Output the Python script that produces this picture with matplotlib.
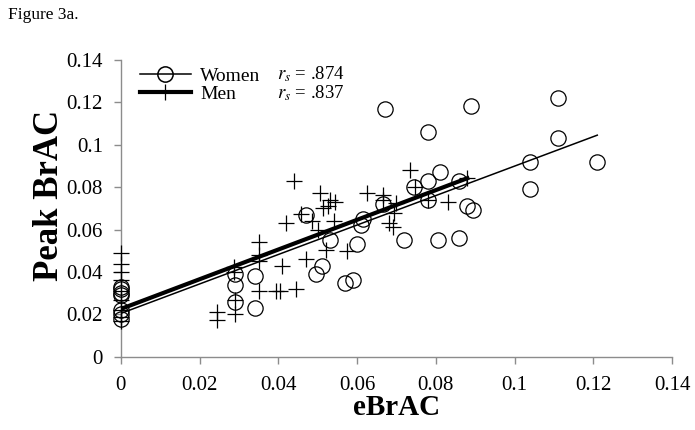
import numpy as np
import matplotlib
matplotlib.use("Agg")
import matplotlib.pyplot as plt
from matplotlib.lines import Line2D
from matplotlib.ticker import FuncFormatter

plt.rcParams['font.family'] = ['Liberation Serif', 'DejaVu Serif']
plt.rcParams['mathtext.fontset'] = 'stix'

# women (circles) eBrAC / peak BrAC
women_x = [0, 0, 0, 0, 0, 0, 0,
           0.029, 0.029, 0.029, 0.034, 0.034,
           0.047, 0.0495, 0.051, 0.053, 0.057, 0.059, 0.060, 0.061, 0.0615,
           0.0665, 0.067, 0.072, 0.0745, 0.078, 0.078, 0.078, 0.081, 0.0805,
           0.086, 0.086, 0.088, 0.089, 0.0895, 0.104, 0.104, 0.111, 0.111, 0.121]
women_y = [0.033, 0.032, 0.030, 0.029, 0.022, 0.020, 0.018,
           0.039, 0.034, 0.026, 0.038, 0.023,
           0.067, 0.039, 0.043, 0.055, 0.035, 0.036, 0.053, 0.062, 0.065,
           0.072, 0.117, 0.055, 0.080, 0.074, 0.083, 0.106, 0.087, 0.055,
           0.056, 0.083, 0.071, 0.118, 0.069, 0.092, 0.079, 0.122, 0.103, 0.092]

# men (plus signs)
men_x = [0, 0, 0, 0, 0, 0, 0, 0, 0,
         0.0244, 0.0244, 0.029, 0.029, 0.0287, 0.0287,
         0.035, 0.035, 0.035, 0.035, 0.0395, 0.0405, 0.041, 0.042, 0.0445, 0.044,
         0.0457, 0.047, 0.0485, 0.050, 0.0506, 0.052, 0.0513, 0.0526, 0.053, 0.054,
         0.0544, 0.0575, 0.0625, 0.0666, 0.0666, 0.068, 0.069, 0.0694, 0.070,
         0.0734, 0.0747, 0.078, 0.083, 0.088]
men_y = [0.049, 0.044, 0.040, 0.036, 0.031, 0.027, 0.022, 0.019, 0.017,
         0.021, 0.0175, 0.020, 0.027, 0.0425, 0.040,
         0.054, 0.048, 0.045, 0.031, 0.031, 0.031, 0.043, 0.063, 0.032, 0.083,
         0.0675, 0.046, 0.064, 0.060, 0.077, 0.0505, 0.070, 0.071, 0.074, 0.064,
         0.073, 0.050, 0.077, 0.0764, 0.074, 0.063, 0.061, 0.068, 0.0726,
         0.088, 0.080, 0.074, 0.073, 0.0845]

# fitted lines: intercept, slope
women_fit = (0.0205, 0.694)
men_fit = (0.0226, 0.700)

women_r = ".874"
men_r = ".837"

ticks = [0, 0.02, 0.04, 0.06, 0.08, 0.1, 0.12, 0.14]

fig = plt.figure(figsize=(6.95, 4.3), dpi=100)
ax = fig.add_axes([0.174, 0.170, 0.793, 0.691])

ax.plot(women_x, women_y, linestyle='none', marker='o', markersize=11,
        markerfacecolor='none', markeredgecolor='black', markeredgewidth=0.9,
        clip_on=False, zorder=3)
ax.plot(men_x, men_y, linestyle='none', marker='+', markersize=12,
        color='black', markeredgewidth=0.9, clip_on=False, zorder=3)

# regression lines over the range of each group
wx = np.array([min(women_x), max(women_x)])
mx = np.array([min(men_x), max(men_x)])
ax.plot(wx, women_fit[0] + women_fit[1] * wx, color='black', linewidth=1.1, zorder=4)
ax.plot(mx, men_fit[0] + men_fit[1] * mx, color='black', linewidth=3.0, zorder=4)

ax.set_xlim(0, 0.14)
ax.set_ylim(0, 0.14)
ax.set_xticks(ticks)
ax.set_yticks(ticks)
fmt = FuncFormatter(lambda v, p: '{:g}'.format(round(v, 2)))
ax.xaxis.set_major_formatter(fmt)
ax.yaxis.set_major_formatter(fmt)

for s in ['top', 'right']:
    ax.spines[s].set_visible(False)
for s in ['left', 'bottom']:
    ax.spines[s].set_color('#8c8c8c')
    ax.spines[s].set_linewidth(1.0)
ax.tick_params(direction='out', length=5, width=1.0, color='#8c8c8c',
               labelsize=15, labelcolor='black')
ax.tick_params(axis='x', pad=9)
ax.tick_params(axis='y', pad=8)

ax.set_xlabel('eBrAC', fontsize=21, fontweight='bold', labelpad=-1)
ax.set_ylabel('Peak BrAC', fontsize=25, fontweight='bold')
ax.yaxis.set_label_coords(-0.10, 0.542)

handles = [Line2D([], [], color='black', linewidth=1.1, marker='o', markersize=11,
                  markerfacecolor='none', markeredgewidth=1.1),
           Line2D([], [], color='black', linewidth=3.0, marker='+', markersize=12,
                  markeredgewidth=0.9)]
ax.legend(handles, ['Women', 'Men'], loc='upper left', bbox_to_anchor=(0.01, 1.02),
          frameon=False, fontsize=14, handlelength=2.6, labelspacing=0.0,
          handletextpad=0.5, borderaxespad=0.3)

ax.text(0.283, 0.951, r'$r_s$ = ' + women_r, transform=ax.transAxes, fontsize=13.5,
        va='center', ha='left')
ax.text(0.283, 0.886, r'$r_s$ = ' + men_r, transform=ax.transAxes, fontsize=13.5,
        va='center', ha='left')

fig.text(0.012, 0.965, 'Figure 3a.', fontsize=12.5, va='center', ha='left')

fig.savefig('out.png', dpi=100)
